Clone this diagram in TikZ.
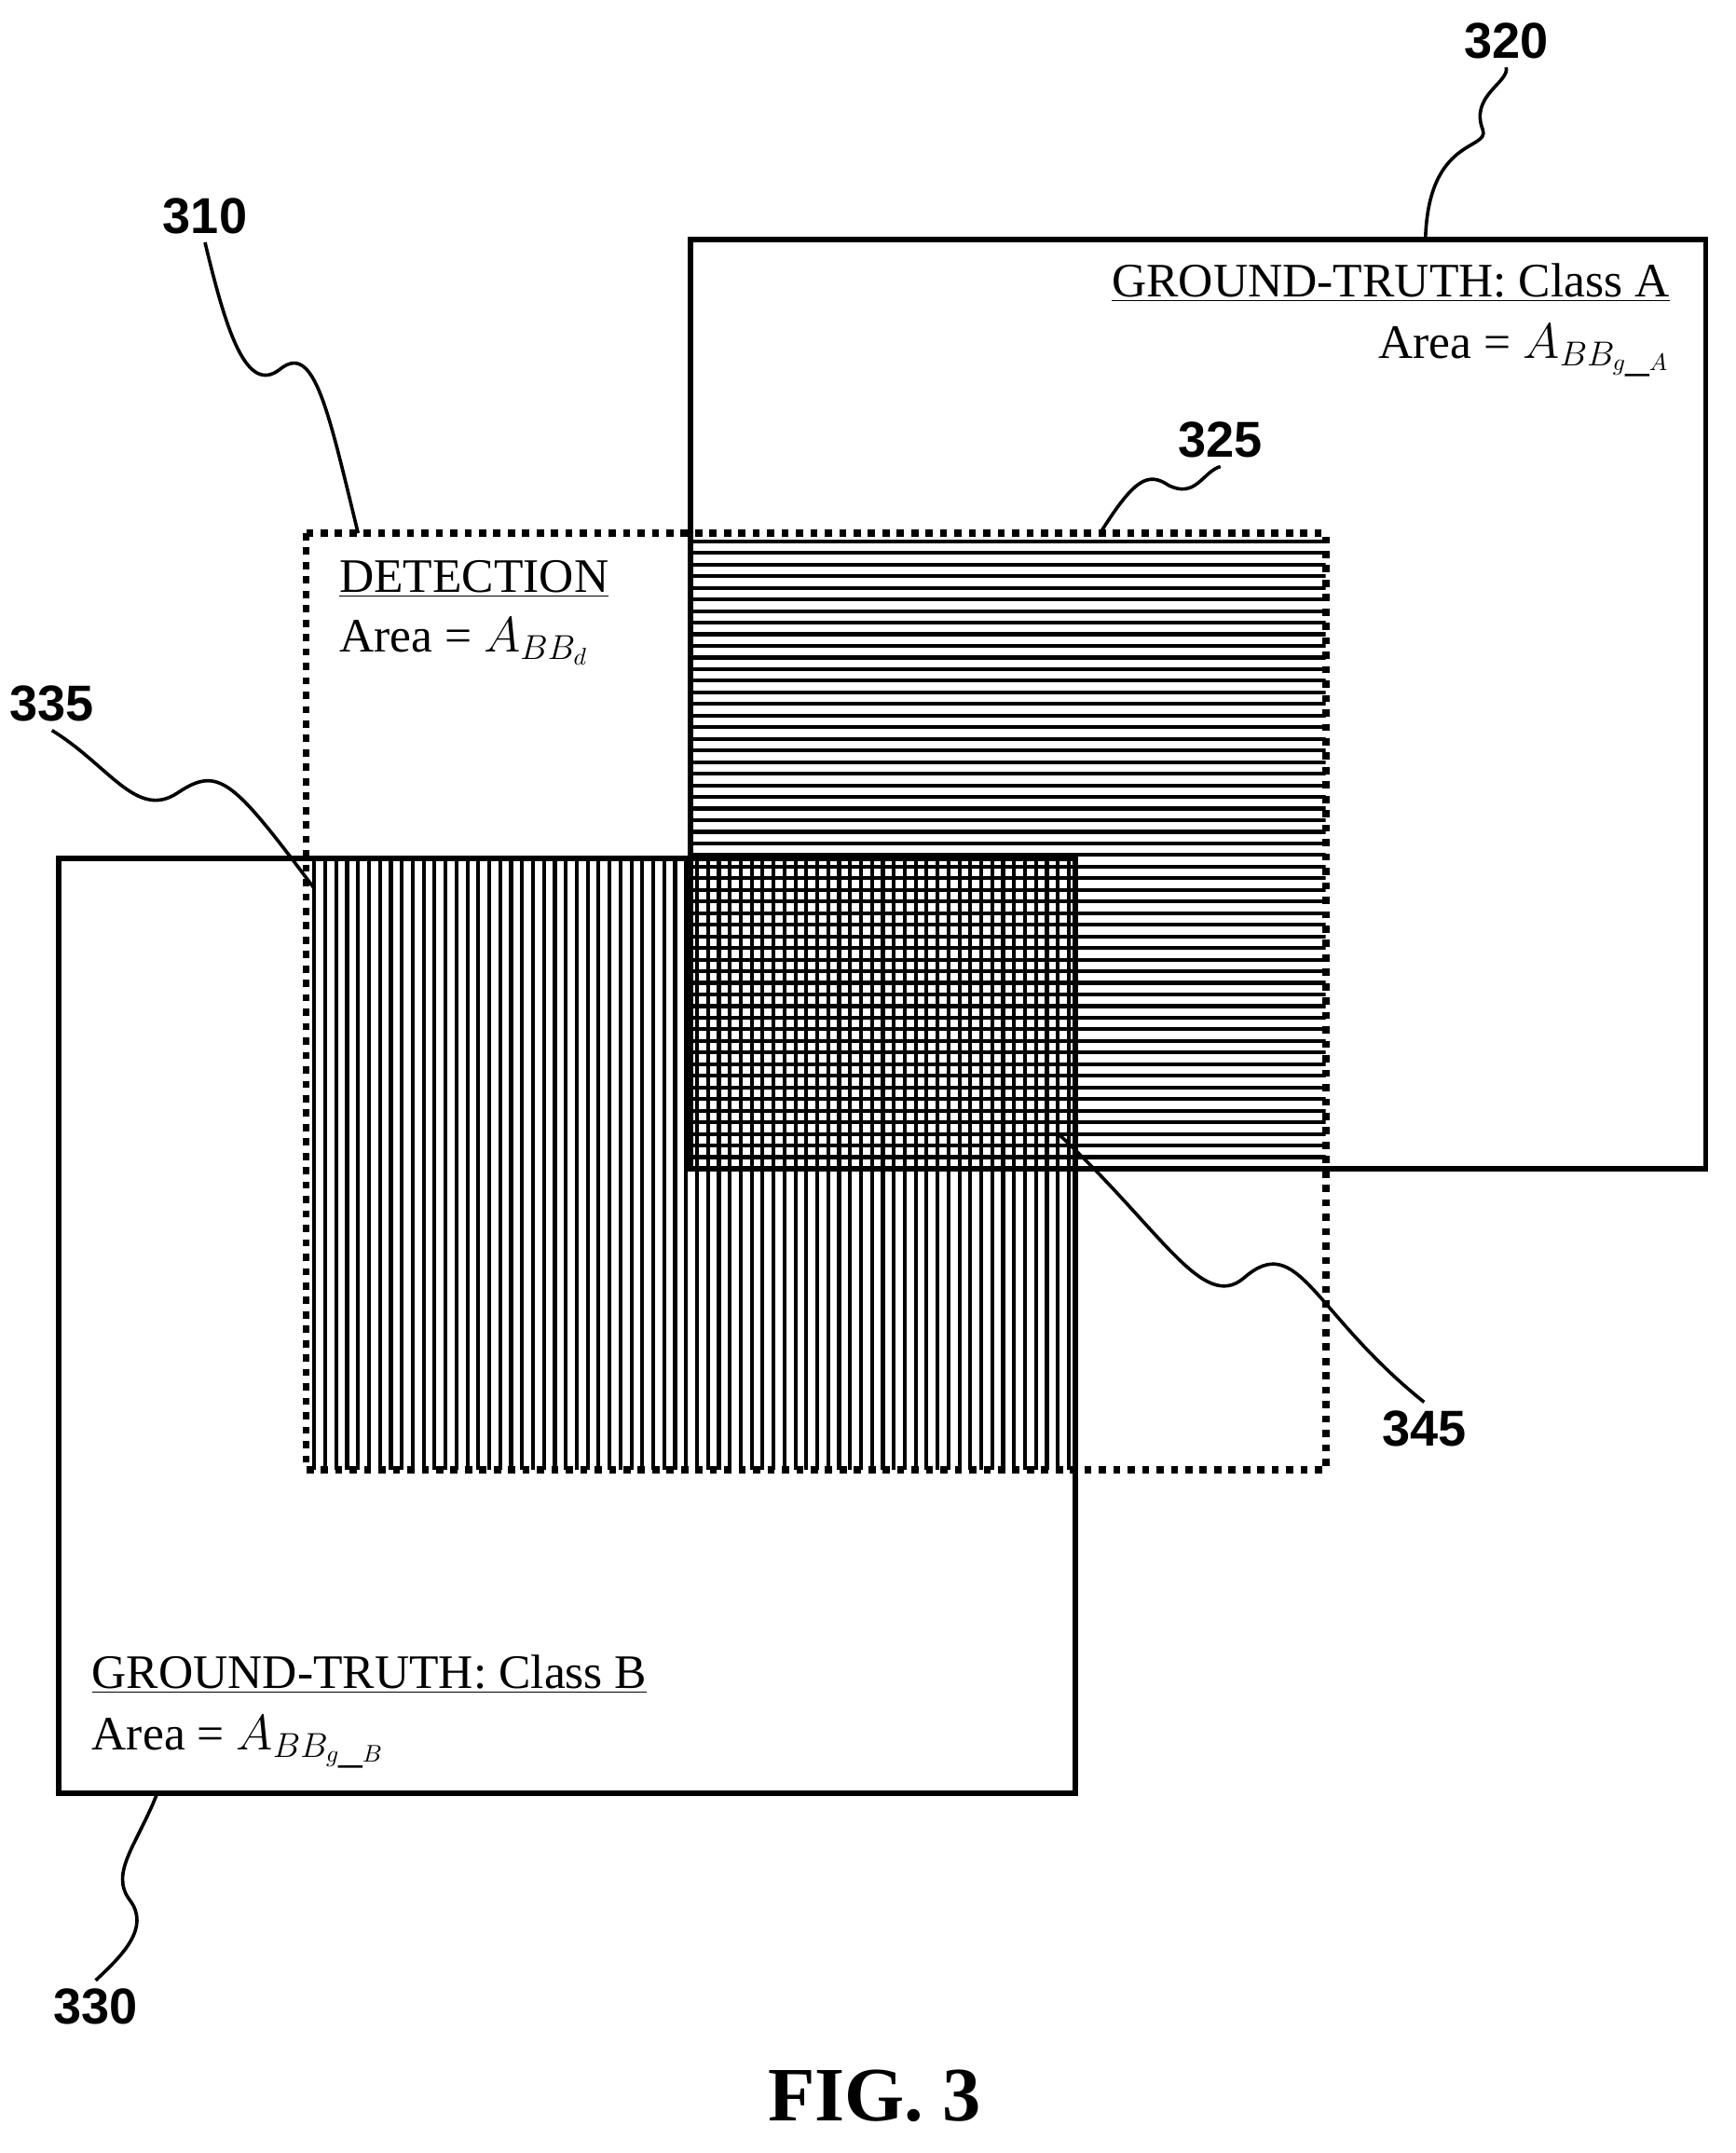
\documentclass[tikz,border=0pt]{standalone}
\usepackage{fontspec}
\setmainfont{Liberation Serif}
\newfontfamily\numfont{Liberation Sans}
\usetikzlibrary{positioning, calc}
\tikzset{
  box/.style={line width=2.2pt},
  detbox/.style={line width=3pt, dash pattern=on 3pt off 3pt},
  hatch/.style={line width=1.6pt},
  lead/.style={line width=1.4pt},
  num/.style={font=\numfont\bfseries\fontsize{21}{24}\selectfont},
  txt/.style={font=\fontsize{20}{24}\selectfont, inner sep=0pt}
}
\begin{document}
\begin{tikzpicture}[x=0.02cm, y=-0.02cm]
    \useasboundingbox (0,0) rectangle (1270,1575);

    % hatched overlaps
    \begin{scope}
        \clip (505,390) rectangle (970,855);
        \foreach \y in {396,404.5,...,852} \draw[hatch] (505,\y) -- (970,\y);
    \end{scope}
    \begin{scope}
        \clip (224,628) rectangle (787,1075);
        \foreach \x in {230,238,...,785} \draw[hatch] (\x,628) -- (\x,1075);
    \end{scope}

    % the boxes
    \coordinate (gaNW) at (505,175);
    \coordinate (detNW) at (224,390);
    \coordinate (gbNW) at (43,628);
    \draw[box] (gaNW) rectangle (1248,855);
    \draw[box] (gbNW) rectangle (787,1312);
    \draw[detbox] (detNW) rectangle (970,1075);
    \draw[box] (505,628) rectangle (787,855);

    % texts
    \node[txt, anchor=base east] (gtA) at (1222,217) {\underline{GROUND-TRUTH: Class A}};
    \node[txt, anchor=base east] (arA) at (1222,262) {Area = $A_{BB_{g\_A}}$};
    \node[txt, anchor=base west] (det) at (248,433) {\underline{DETECTION}};
    \node[txt, anchor=base west] (arD) at (248,477) {Area = $A_{BB_d}$};
    \node[txt, anchor=base west] (gtB) at (67,1235) {\underline{GROUND-TRUTH: Class B}};
    \node[txt, anchor=base west] (arB) at (67,1280) {Area = $A_{BB_{g\_B}}$};

    % reference numerals
    \node[num] (n320) at (1102,30) {320};
    \node[num] (n310) at (150,158) {310};
    \node[num] (n325) at (893,322) {325};
    \node[num] (n335) at (38,515) {335};
    \node[num] (n345) at (1042,1045) {345};
    \node[num] (n330) at (70,1468) {330};

    \coordinate (e320) at (1043,175);
    \coordinate (e310) at (262,390);
    \coordinate (e325) at (805,390);
    \coordinate (e335) at (230,650);
    \coordinate (e345) at (775,830);
    \coordinate (e330) at (115,1312);

    % leaders
    \draw[lead] (e320) .. controls (1045,100) and (1090,110) .. (1085,95)
                .. controls (1075,70) and (1105,60) .. (n320.south);
    \draw[lead] (e310) .. controls (240,300) and (230,250) .. (205,270)
                .. controls (180,290) and (165,240) .. (n310.south);
    \draw[lead] (e325) .. controls (830,350) and (840,345) .. (855,355)
                .. controls (875,365) and (880,345) .. (n325.south);
    \draw[lead] (e335) .. controls (170,570) and (160,560) .. (130,580)
                .. controls (100,600) and (80,560) .. (n335.south);
    \draw[lead] (e345) .. controls (850,900) and (880,960) .. (910,935)
                .. controls (950,900) and (960,960) .. (n345.north);
    \draw[lead] (e330) .. controls (100,1350) and (80,1370) .. (95,1390)
                .. controls (110,1410) and (90,1430) .. (n330.north);

    \node[font=\bfseries\fontsize{32}{36}\selectfont] (fig) at (640,1533) {FIG. 3};
\end{tikzpicture}
\end{document}
